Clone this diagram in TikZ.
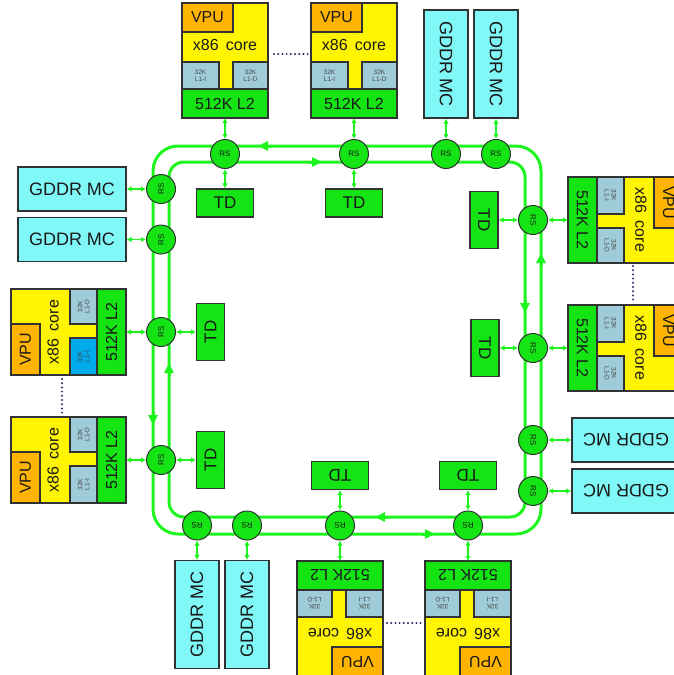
\documentclass[tikz,border=0pt]{standalone}
\usepackage{fontspec}
\setmainfont{Liberation Sans}
\usetikzlibrary{arrows.meta}
\definecolor{trk}{RGB}{30,245,30}
\definecolor{boxg}{RGB}{20,228,20}
\definecolor{yel}{RGB}{255,245,0}
\definecolor{org}{RGB}{255,180,0}
\definecolor{lone}{RGB}{160,204,218}
\definecolor{lspec}{RGB}{0,170,235}
\definecolor{mcc}{RGB}{128,248,248}
\definecolor{bord}{RGB}{50,50,50}
\definecolor{txtc}{RGB}{25,25,25}
\definecolor{ltc}{RGB}{70,70,70}
\definecolor{dotc}{RGB}{30,40,110}
\tikzset{
 box/.style={draw=bord, line width=1.1pt},
 ctext/.style={inner sep=0pt, text=txtc, font=\fontsize{16}{16}\selectfont},
 ltext/.style={inner sep=0pt, text=ltc, align=center, font=\fontsize{6.5}{7}\selectfont},
 rsnode/.style={circle, draw=bord, line width=1pt, fill=boxg, minimum size=29pt, inner sep=0pt, text=txtc, font=\fontsize{8}{8}\selectfont},
 tdnode/.style={rectangle, draw=bord, line width=1.1pt, fill=boxg, minimum width=57pt, minimum height=28pt, inner sep=0pt, text=txtc, font=\fontsize{17}{17}\selectfont},
 mcnode/.style={rectangle, draw=bord, line width=1.1pt, fill=mcc, minimum width=108pt, minimum height=44pt, inner sep=0pt, text=txtc, font=\fontsize{18}{18}\selectfont},
 track/.style={draw=trk, line width=3pt},
 trackarrow/.style={draw=trk, line width=3pt, -{Triangle[length=10pt,width=9pt]}},
 conn/.style={draw=trk, line width=1.4pt, {Latex[length=5pt,width=5.5pt]}-{Latex[length=5pt,width=5.5pt]}},
 dots/.style={draw=dotc, line width=2.2pt, dash pattern=on 0pt off 4.2pt, line cap=round},
}
\newcommand\coreblk[5]{%
\begin{scope}[shift={(#2,#3)},rotate=#4]
\filldraw[box,fill=yel] (-43,-115) rectangle (43,0);
\filldraw[box,fill=org] (-43,-115) rectangle (8,-86);
\filldraw[box,fill=#5] (-43,-56) rectangle (-6,-29);
\filldraw[box,fill=lone] (8,-56) rectangle (43,-29);
\filldraw[box,fill=boxg] (-43,-29) rectangle (43,0);
\node[ctext,transform shape] (#1v) at (-17.5,-100.5) {VPU};
\node[ctext,transform shape] (#1x) at (0,-73) {x86\,\ core};
\node[ltext,transform shape] (#1i) at (-24.5,-42.5) {32K\\L1-I};
\node[ltext,transform shape] (#1d) at (25.5,-42.5) {32K\\L1-D};
\node[ctext,transform shape] (#1l) at (0,-14.5) {512K L2};
\coordinate (#1) at (0,0);
\end{scope}}
\begin{document}
\begin{tikzpicture}[x=1pt,y=-1pt]
\useasboundingbox (0,0) rectangle (674,675);
% ring tracks
\draw[track, rounded corners=25pt] (153,146) rectangle (541,534);
\draw[track, rounded corners=15pt] (169,162) rectangle (525,517);
% direction arrows on tracks
\draw[trackarrow] (271,146) -- (258,146);
\draw[trackarrow] (309,162) -- (322,162);
\draw[trackarrow] (153,412) -- (153,425);
\draw[trackarrow] (169,376) -- (169,363);
\draw[trackarrow] (541,266) -- (541,253);
\draw[trackarrow] (525,300) -- (525,313);
\draw[trackarrow] (422,534) -- (435,534);
\draw[trackarrow] (388,517) -- (375,517);
% cores
\coreblk{cT1}{225}{118}{0}{lone}
\coreblk{cT2}{354}{118}{0}{lone}
\coreblk{cL1}{126}{332}{90}{lspec}
\coreblk{cL2}{126}{460}{90}{lone}
\coreblk{cR1}{568}{220}{-90}{lone}
\coreblk{cR2}{568}{348}{-90}{lone}
\coreblk{cB1}{340}{561}{180}{lone}
\coreblk{cB2}{468}{561}{180}{lone}
% memory controllers
\node[mcnode, rotate=-90] (mT1) at (446,64) {GDDR MC};
\node[mcnode, rotate=-90] (mT2) at (496,64) {GDDR MC};
\node[mcnode] (mL1) at (72,189) {GDDR MC};
\node[mcnode] (mL2) at (72,239.5) {GDDR MC};
\node[mcnode, rotate=180] (mR1) at (626,440) {GDDR MC};
\node[mcnode, rotate=180] (mR2) at (626,491) {GDDR MC};
\node[mcnode, rotate=90] (mB1) at (197,614.5) {GDDR MC};
\node[mcnode, rotate=90] (mB2) at (247,614.5) {GDDR MC};
% tag directories
\node[tdnode] (tT1) at (225,203) {TD};
\node[tdnode] (tT2) at (354,203) {TD};
\node[tdnode, rotate=90] (tL1) at (210.5,332) {TD};
\node[tdnode, rotate=90] (tL2) at (210.5,460) {TD};
\node[tdnode, rotate=-90] (tR1) at (484,220) {TD};
\node[tdnode, rotate=-90] (tR2) at (485,348) {TD};
\node[tdnode, rotate=180] (tB1) at (340,475.5) {TD};
\node[tdnode, rotate=180] (tB2) at (468,475.5) {TD};
% ring stops
\node[rsnode] (rT1) at (225,154) {RS};
\node[rsnode] (rT2) at (354,154) {RS};
\node[rsnode] (rT3) at (446,154) {RS};
\node[rsnode] (rT4) at (496,154) {RS};
\node[rsnode, rotate=90] (rL1) at (161,189) {RS};
\node[rsnode, rotate=90] (rL2) at (161,239.5) {RS};
\node[rsnode, rotate=90] (rL3) at (161,332) {RS};
\node[rsnode, rotate=90] (rL4) at (161,460) {RS};
\node[rsnode, rotate=-90] (rR1) at (533,220) {RS};
\node[rsnode, rotate=-90] (rR2) at (533,348) {RS};
\node[rsnode, rotate=-90] (rR3) at (533,440) {RS};
\node[rsnode, rotate=-90] (rR4) at (533,491) {RS};
\node[rsnode, rotate=180] (rB1) at (197,525.5) {RS};
\node[rsnode, rotate=180] (rB2) at (247,525.5) {RS};
\node[rsnode, rotate=180] (rB3) at (340,525.5) {RS};
\node[rsnode, rotate=180] (rB4) at (468,525.5) {RS};
% connectors
\draw[conn] (rT1) -- (cT1);
\draw[conn] (rT1) -- (tT1);
\draw[conn] (rT2) -- (cT2);
\draw[conn] (rT2) -- (tT2);
\draw[conn] (rT3) -- (mT1);
\draw[conn] (rT4) -- (mT2);
\draw[conn] (rL1) -- (mL1);
\draw[conn] (rL2) -- (mL2);
\draw[conn] (rL3) -- (cL1);
\draw[conn] (rL3) -- (tL1);
\draw[conn] (rL4) -- (cL2);
\draw[conn] (rL4) -- (tL2);
\draw[conn] (rR1) -- (cR1);
\draw[conn] (rR1) -- (tR1);
\draw[conn] (rR2) -- (cR2);
\draw[conn] (rR2) -- (tR2);
\draw[conn] (rR3) -- (mR1);
\draw[conn] (rR4) -- (mR2);
\draw[conn] (rB1) -- (mB1);
\draw[conn] (rB2) -- (mB2);
\draw[conn] (rB3) -- (cB1);
\draw[conn] (rB3) -- (tB1);
\draw[conn] (rB4) -- (cB2);
\draw[conn] (rB4) -- (tB2);
% dotted continuation marks
\coordinate (dT1) at (274,54); \coordinate (dT2) at (308,54);
\coordinate (dL1) at (62,379); \coordinate (dL2) at (62,413);
\coordinate (dR1) at (633,266); \coordinate (dR2) at (633,302);
\coordinate (dB1) at (387,623); \coordinate (dB2) at (421,623);
\draw[dots] (dT1) -- (dT2);
\draw[dots] (dL1) -- (dL2);
\draw[dots] (dR1) -- (dR2);
\draw[dots] (dB1) -- (dB2);
\end{tikzpicture}
\end{document}
